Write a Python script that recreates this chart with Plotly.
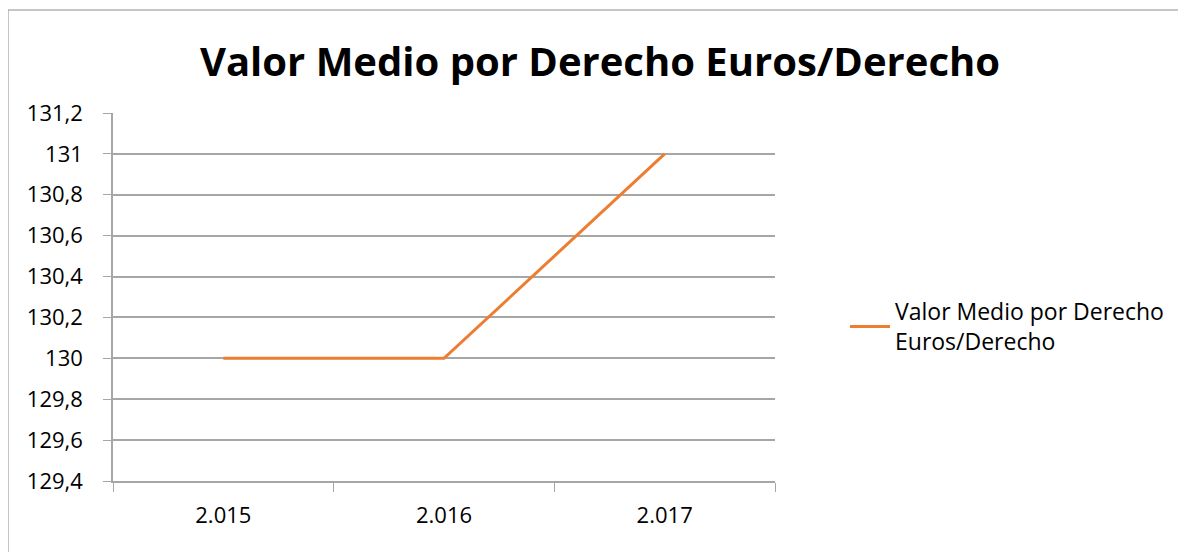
import plotly.graph_objects as go

# data
years = ["2.015", "2.016", "2.017"]
valor_medio = [130.0, 130.0, 131.0]
serie_nombre = "Valor Medio por Derecho<br>Euros/Derecho"
titulo = "Valor Medio por Derecho Euros/Derecho"

C_LINE = "#ED7D31"
C_GRID = "#A6A6A6"
FONT = "Open Sans"

OFF = 8  # page body margin
W, H = 1186 - OFF, 552 - OFF
L, R, T, B = 113 - OFF, 775 - OFF, 113 - OFF, 481 - OFF  # plot area in px


def px_x(x):
    return (x - OFF - L) / (R - L)


def px_y(y):
    return (B - (y - OFF)) / (B - T)


fig = go.Figure()
fig.add_trace(go.Scatter(
    x=years, y=valor_medio, mode="lines", name=serie_nombre,
    line=dict(color=C_LINE, width=3),
))

fig.update_layout(
    width=W, height=H,
    paper_bgcolor="white", plot_bgcolor="white",
    margin=dict(l=L, r=W - R, t=T, b=H - B, pad=0),
    separators=",.",
    font=dict(family=FONT, size=22, color="#000000"),
    title=dict(text="<b>" + titulo + "</b>", x=px_x(600), xanchor="center",
               xref="paper", y=1 - (62 - OFF) / H, yanchor="middle",
               font=dict(family=FONT, size=40, color="#000000")),
    showlegend=True,
    legend=dict(x=px_x(845), y=px_y(290), xanchor="left", yanchor="top",
                font=dict(family=FONT, size=23), bgcolor="rgba(0,0,0,0)",
                itemwidth=40, tracegroupgap=0),
    xaxis=dict(type="category", range=[-0.5, 2.5], showgrid=False,
               showline=True, linecolor=C_GRID, linewidth=1.5,
               ticks="outside", tickson="boundaries", ticklen=9,
               tickcolor=C_GRID, zeroline=False, ticklabelstandoff=14),
    yaxis=dict(range=[129.4, 131.2], dtick=0.2, tick0=129.4,
               showgrid=True, gridcolor=C_GRID, gridwidth=1.5,
               showline=True, linecolor=C_GRID, linewidth=1.5,
               ticks="outside", ticklen=8, tickcolor=C_GRID,
               zeroline=False, ticklabelstandoff=16),
    shapes=[dict(type="rect", xref="paper", yref="paper",
                 x0=px_x(8), x1=px_x(1200), y0=px_y(570), y1=px_y(10),
                 line=dict(color="#8C8C8C", width=1), layer="below")],
)

fig.write_html("out.html")
